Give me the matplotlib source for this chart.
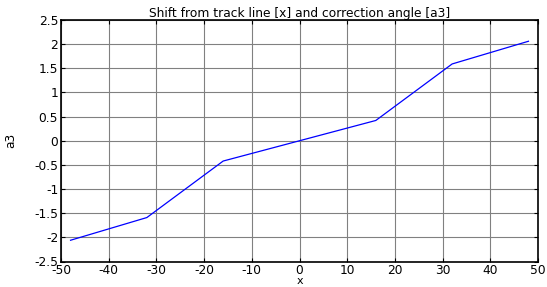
import matplotlib
matplotlib.use('Agg')
import matplotlib.pyplot as plt

plt.rcParams['font.family'] = ['DejaVu Sans']
plt.rcParams['axes.unicode_minus'] = False

# data points
x_vals = [-48, -32, -16, 0, 16, 32, 48]
a3_vals = [-2.06, -1.59, -0.42, 0.0, 0.42, 1.59, 2.06]

x_ticks = list(range(-50, 51, 10))
y_ticks = [-2.5, -2, -1.5, -1, -0.5, 0, 0.5, 1, 1.5, 2, 2.5]

fig = plt.figure(figsize=(5.47, 2.87), dpi=100)
ax = fig.add_axes([61 / 547, 1 - 261.5 / 287, 477 / 547, 241.5 / 287])

ax.plot(x_vals, a3_vals, color='#0000ff', linewidth=0.9)

ax.set_xlim(-50, 50)
ax.set_ylim(-2.5, 2.5)
ax.set_xticks(x_ticks)
ax.set_yticks(y_ticks)
ax.set_yticklabels(['%g' % v for v in y_ticks])
ax.grid(True, color='#808080', linewidth=0.8, linestyle='-')
ax.set_axisbelow(True)
ax.tick_params(direction='in', length=3, width=0.8, labelsize=8.8,
               top=True, right=True, pad=2)
for s in ax.spines.values():
    s.set_linewidth(1.2)

ax.set_title('Shift from track line [x] and correction angle [a3]', fontsize=8.8, pad=2)
ax.set_xlabel('x', fontsize=8, labelpad=-1)
ax.set_ylabel('a3', fontsize=8.8, labelpad=12)

fig.savefig('out.png', dpi=100)
